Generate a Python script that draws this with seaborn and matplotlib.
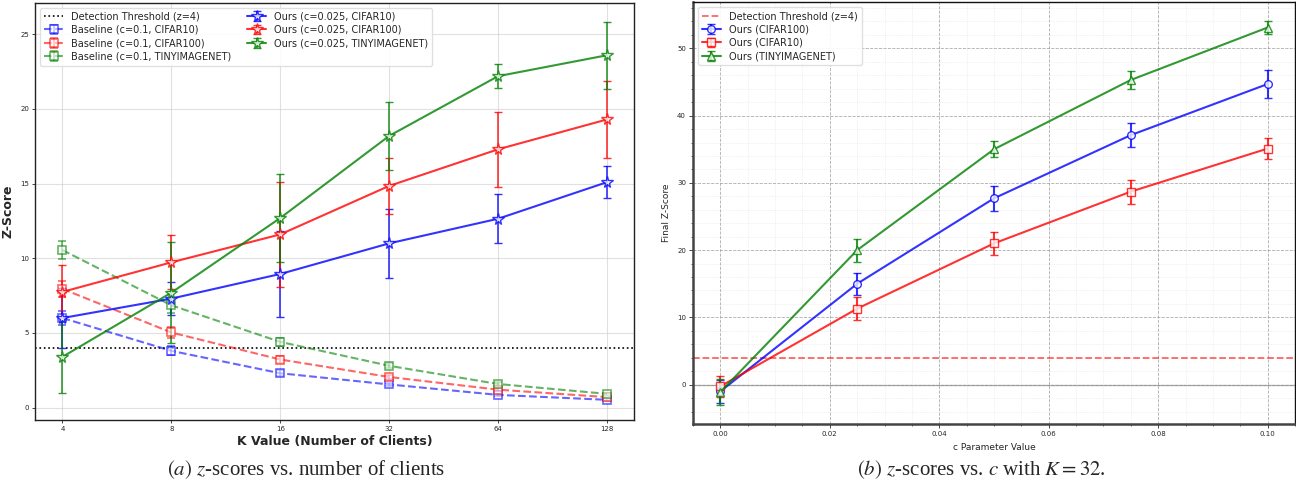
import matplotlib
matplotlib.use("Agg")
import matplotlib.pyplot as plt
import matplotlib.ticker as mticker
import seaborn as sns
import numpy as np

# ---- (a) z-scores vs. number of clients ----
k_values = [4, 8, 16, 32, 64, 128]

base_cifar10 = [6.0, 3.8, 2.3, 1.55, 0.85, 0.52]
base_cifar10_err = [0.5, 0.3, 0.2, 0.12, 0.08, 0.06]
base_cifar100 = [7.95, 5.03, 3.22, 2.05, 1.2, 0.7]
base_cifar100_err = [0.55, 0.37, 0.22, 0.15, 0.1, 0.07]
base_tiny = [10.55, 6.85, 4.4, 2.8, 1.58, 0.92]
base_tiny_err = [0.62, 0.5, 0.25, 0.17, 0.12, 0.08]

ours_cifar10 = [6.0, 7.3, 8.95, 11.0, 12.65, 15.1]
ours_cifar10_err = [2.0, 1.1, 2.85, 2.3, 1.65, 1.05]
ours_cifar100 = [7.75, 9.73, 11.6, 14.85, 17.3, 19.3]
ours_cifar100_err = [1.8, 1.8, 3.5, 1.9, 2.5, 2.6]
ours_tiny = [3.4, 7.7, 12.7, 18.2, 22.2, 23.6]
ours_tiny_err = [2.45, 3.4, 2.95, 2.3, 0.8, 2.25]

# ---- (b) z-scores vs. c with K = 32 ----
c_values = [0.0, 0.025, 0.05, 0.075, 0.1]
c_cifar100 = [-1.0, 15.0, 27.7, 37.1, 44.7]
c_cifar100_err = [1.7, 1.6, 1.85, 1.8, 2.1]
c_cifar10 = [-0.25, 11.3, 21.0, 28.7, 35.1]
c_cifar10_err = [1.6, 1.7, 1.75, 1.8, 1.6]
c_tiny = [-1.1, 20.0, 35.0, 45.3, 53.1]
c_tiny_err = [1.9, 1.7, 1.2, 1.3, 0.9]

threshold = 4

sns.set_style("white")
plt.rcParams["font.family"] = ["DejaVu Sans"]
plt.rcParams["mathtext.fontset"] = "stix"

fig = plt.figure(figsize=(12.96, 4.9), dpi=100)
ax1 = fig.add_axes([0.0272, 0.1435, 0.4622, 0.851])
ax2 = fig.add_axes([0.5347, 0.1347, 0.4645, 0.8606])

# ---------- left panel ----------
ax1.axhline(threshold, color="black", linestyle=":", linewidth=1.2,
            label="Detection Threshold (z=4)")

series_base = [
    ("Baseline (c=0.1, CIFAR10)", base_cifar10, base_cifar10_err, "blue"),
    ("Baseline (c=0.1, CIFAR100)", base_cifar100, base_cifar100_err, "red"),
    ("Baseline (c=0.1, TINYIMAGENET)", base_tiny, base_tiny_err, "green"),
]
series_ours = [
    ("Ours (c=0.025, CIFAR10)", ours_cifar10, ours_cifar10_err, "blue"),
    ("Ours (c=0.025, CIFAR100)", ours_cifar100, ours_cifar100_err, "red"),
    ("Ours (c=0.025, TINYIMAGENET)", ours_tiny, ours_tiny_err, "green"),
]
for label, vals, errs, col in series_base:
    ax1.errorbar(k_values, vals, yerr=errs, color=col, linestyle="--",
                 linewidth=1.5, marker="s", markersize=6,
                 markerfacecolor="white", markeredgewidth=1.2,
                 capsize=3, elinewidth=1.2, alpha=0.6, label=label)
for label, vals, errs, col in series_ours:
    ax1.errorbar(k_values, vals, yerr=errs, color=col, linestyle="-",
                 linewidth=1.5, marker="*", markersize=8.5,
                 markerfacecolor="white", markeredgewidth=1.0,
                 capsize=3, elinewidth=1.2, alpha=0.8, label=label)

ax1.set_xscale("log", base=2)
ax1.set_xticks(k_values)
ax1.xaxis.set_major_formatter(mticker.ScalarFormatter())
ax1.xaxis.set_minor_locator(mticker.NullLocator())
ax1.set_yticks([0, 5, 10, 15, 20, 25])
ax1.tick_params(axis="both", labelsize=5, length=2.5, width=0.6,
                direction="out", bottom=True, left=True, pad=2)
ax1.grid(True, color="#cccccc", alpha=0.6, linewidth=0.8)
ax1.set_xlabel("K Value (Number of Clients)", fontsize=9,
               fontweight="bold", labelpad=2)
ax1.set_ylabel("Z-Score", fontsize=9, fontweight="bold", labelpad=4)
for s in ax1.spines.values():
    s.set_color("#222222")
    s.set_linewidth(1.0)
ax1.legend(loc="upper left", ncol=2, fontsize=7, frameon=True,
           framealpha=0.9, edgecolor="#dddddd", handlelength=2.0,
           columnspacing=1.6, borderpad=0.4, labelspacing=0.35)

# ---------- right panel ----------
ax2.axhline(threshold, color="red", linestyle="--", linewidth=1.3, alpha=0.6,
            label="Detection Threshold (z=4)")
ax2.axhline(0, color="gray", linestyle="-", linewidth=1.0, alpha=0.6)

series_c = [
    ("Ours (CIFAR100)", c_cifar100, c_cifar100_err, "blue", "o"),
    ("Ours (CIFAR10)", c_cifar10, c_cifar10_err, "red", "s"),
    ("Ours (TINYIMAGENET)", c_tiny, c_tiny_err, "green", "^"),
]
for label, vals, errs, col, mk in series_c:
    ax2.errorbar(c_values, vals, yerr=errs, color=col, linestyle="-",
                 linewidth=1.5, marker=mk, markersize=5.5,
                 markerfacecolor="white", markeredgewidth=1.0,
                 capsize=3, elinewidth=1.5, capthick=1.2, alpha=0.8,
                 label=label)

ax2.xaxis.set_major_locator(mticker.MultipleLocator(0.02))
ax2.xaxis.set_major_formatter(mticker.FormatStrFormatter("%.2f"))
ax2.xaxis.set_minor_locator(mticker.MultipleLocator(0.005))
ax2.yaxis.set_major_locator(mticker.MultipleLocator(10))
ax2.yaxis.set_minor_locator(mticker.MultipleLocator(2))
ax2.tick_params(axis="both", which="major", labelsize=5, length=3,
                width=0.6, direction="out", bottom=True, left=True, pad=2)
ax2.tick_params(axis="both", which="minor", length=1.5, width=0.5,
                direction="out", bottom=True, left=True)
ax2.grid(True, which="major", color="#999999", linestyle="--",
         linewidth=0.6, alpha=0.8)
ax2.grid(True, which="minor", color="#c8c8c8", linestyle=":",
         linewidth=0.5, alpha=0.5)
ax2.set_xlabel("c Parameter Value", fontsize=6.5, labelpad=3)
ax2.set_ylabel("Final Z-Score", fontsize=6.5, labelpad=4)
ax2.xaxis.set_label_coords(0.5, -0.045)
for side in ["top", "right"]:
    ax2.spines[side].set_color("#111111")
    ax2.spines[side].set_linewidth(1.0)
for side in ["left", "bottom"]:
    ax2.spines[side].set_color("#444444")
    ax2.spines[side].set_linewidth(1.8)
ax2.legend(loc="upper left", fontsize=7, frameon=True, framealpha=0.9,
           edgecolor="#dddddd", handlelength=2.0, borderpad=0.4,
           labelspacing=0.35)

# ---------- captions ----------
cap_kw = dict(fontsize=15, family="Liberation Serif", ha="center", va="center")
fig.text(306 / 1296, 1 - 470 / 490,
         r"$\mathit{(a)}$ $z$-scores vs. number of clients", **cap_kw)
fig.text(981 / 1296, 1 - 470 / 490,
         r"$\mathit{(b)}$ $z$-scores vs. $c$ with $K=32$.", **cap_kw)

fig.savefig("out.png", dpi=100)
